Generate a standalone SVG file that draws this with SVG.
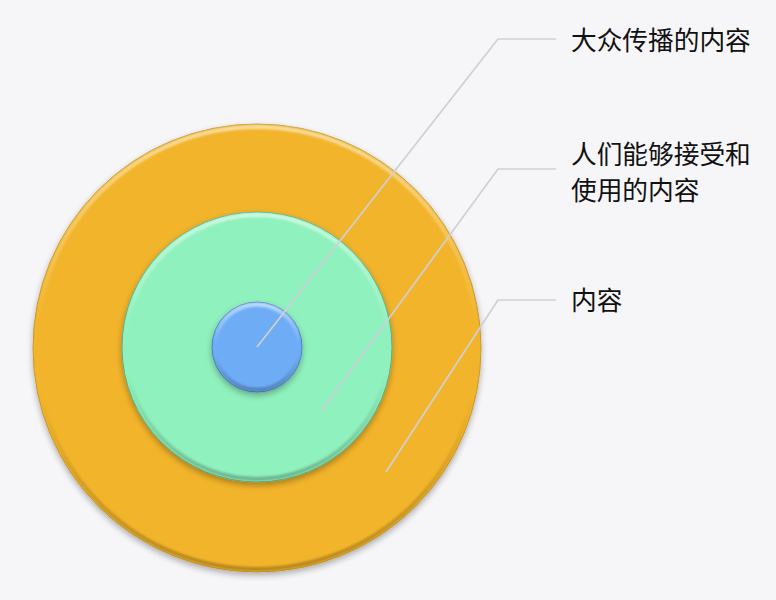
<svg xmlns="http://www.w3.org/2000/svg" width="776" height="600" viewBox="0 0 776 600">
  <defs>
    <linearGradient id="bevel" x1="0" y1="0" x2="0" y2="1">
      <stop offset="0" stop-color="#ffffff" stop-opacity="0.55"/>
      <stop offset="0.45" stop-color="#ffffff" stop-opacity="0"/>
      <stop offset="0.6" stop-color="#000000" stop-opacity="0"/>
      <stop offset="1" stop-color="#000000" stop-opacity="0.25"/>
    </linearGradient>
    <filter id="shadow" x="-20%" y="-20%" width="140%" height="140%">
      <feGaussianBlur in="SourceAlpha" stdDeviation="3"/>
      <feOffset dx="0" dy="3" result="b"/>
      <feComponentTransfer><feFuncA type="linear" slope="0.3"/></feComponentTransfer>
      <feMerge><feMergeNode/><feMergeNode in="SourceGraphic"/></feMerge>
    </filter>
    <filter id="soft" x="-10%" y="-10%" width="120%" height="120%">
      <feGaussianBlur stdDeviation="1"/>
    </filter>
  </defs>
  <style>
    .lbl { font-family: "Noto Sans CJK SC", "Noto Sans", sans-serif; font-size: 25.7px; fill: #111111; }
    .lead { fill: none; stroke: #cfcfd7; stroke-width: 1.7; stroke-linejoin: round; }
    .bev { fill: none; stroke: url(#bevel); stroke-width: 4; filter: url(#soft); }
  </style>
  <rect x="0" y="0" width="776" height="600" fill="#f6f6f8"/>

  <g id="outer">
    <circle cx="257" cy="348" r="224" fill="#f2b42a" stroke="#c89a2c" stroke-width="1" filter="url(#shadow)"/>
    <circle class="bev" cx="257" cy="348" r="221"/>
  </g>
  <g id="middle">
    <circle cx="257" cy="347" r="135" fill="#8ff1be" stroke="#5fae86" stroke-width="1" filter="url(#shadow)"/>
    <circle class="bev" cx="257" cy="347" r="132"/>
  </g>
  <g id="inner">
    <circle cx="257" cy="347" r="45" fill="#6eadf6" stroke="#4a80c0" stroke-width="1" filter="url(#shadow)"/>
    <circle class="bev" cx="257" cy="347" r="42.5"/>
  </g>

  <g id="connectors">
    <polyline class="lead" points="257,347 498,39 556,39"/>
    <polyline class="lead" points="322,410 498,169 556,169"/>
    <polyline class="lead" points="386,472 498,300 556,300"/>
  </g>

  <g id="label1">
    <text class="lbl" x="571" y="50">大众传播的内容</text>
  </g>
  <g id="label2">
    <text class="lbl" x="571" y="164">人们能够接受和</text>
    <text class="lbl" x="571" y="200">使用的内容</text>
  </g>
  <g id="label3">
    <text class="lbl" x="571" y="310">内容</text>
  </g>
</svg>
